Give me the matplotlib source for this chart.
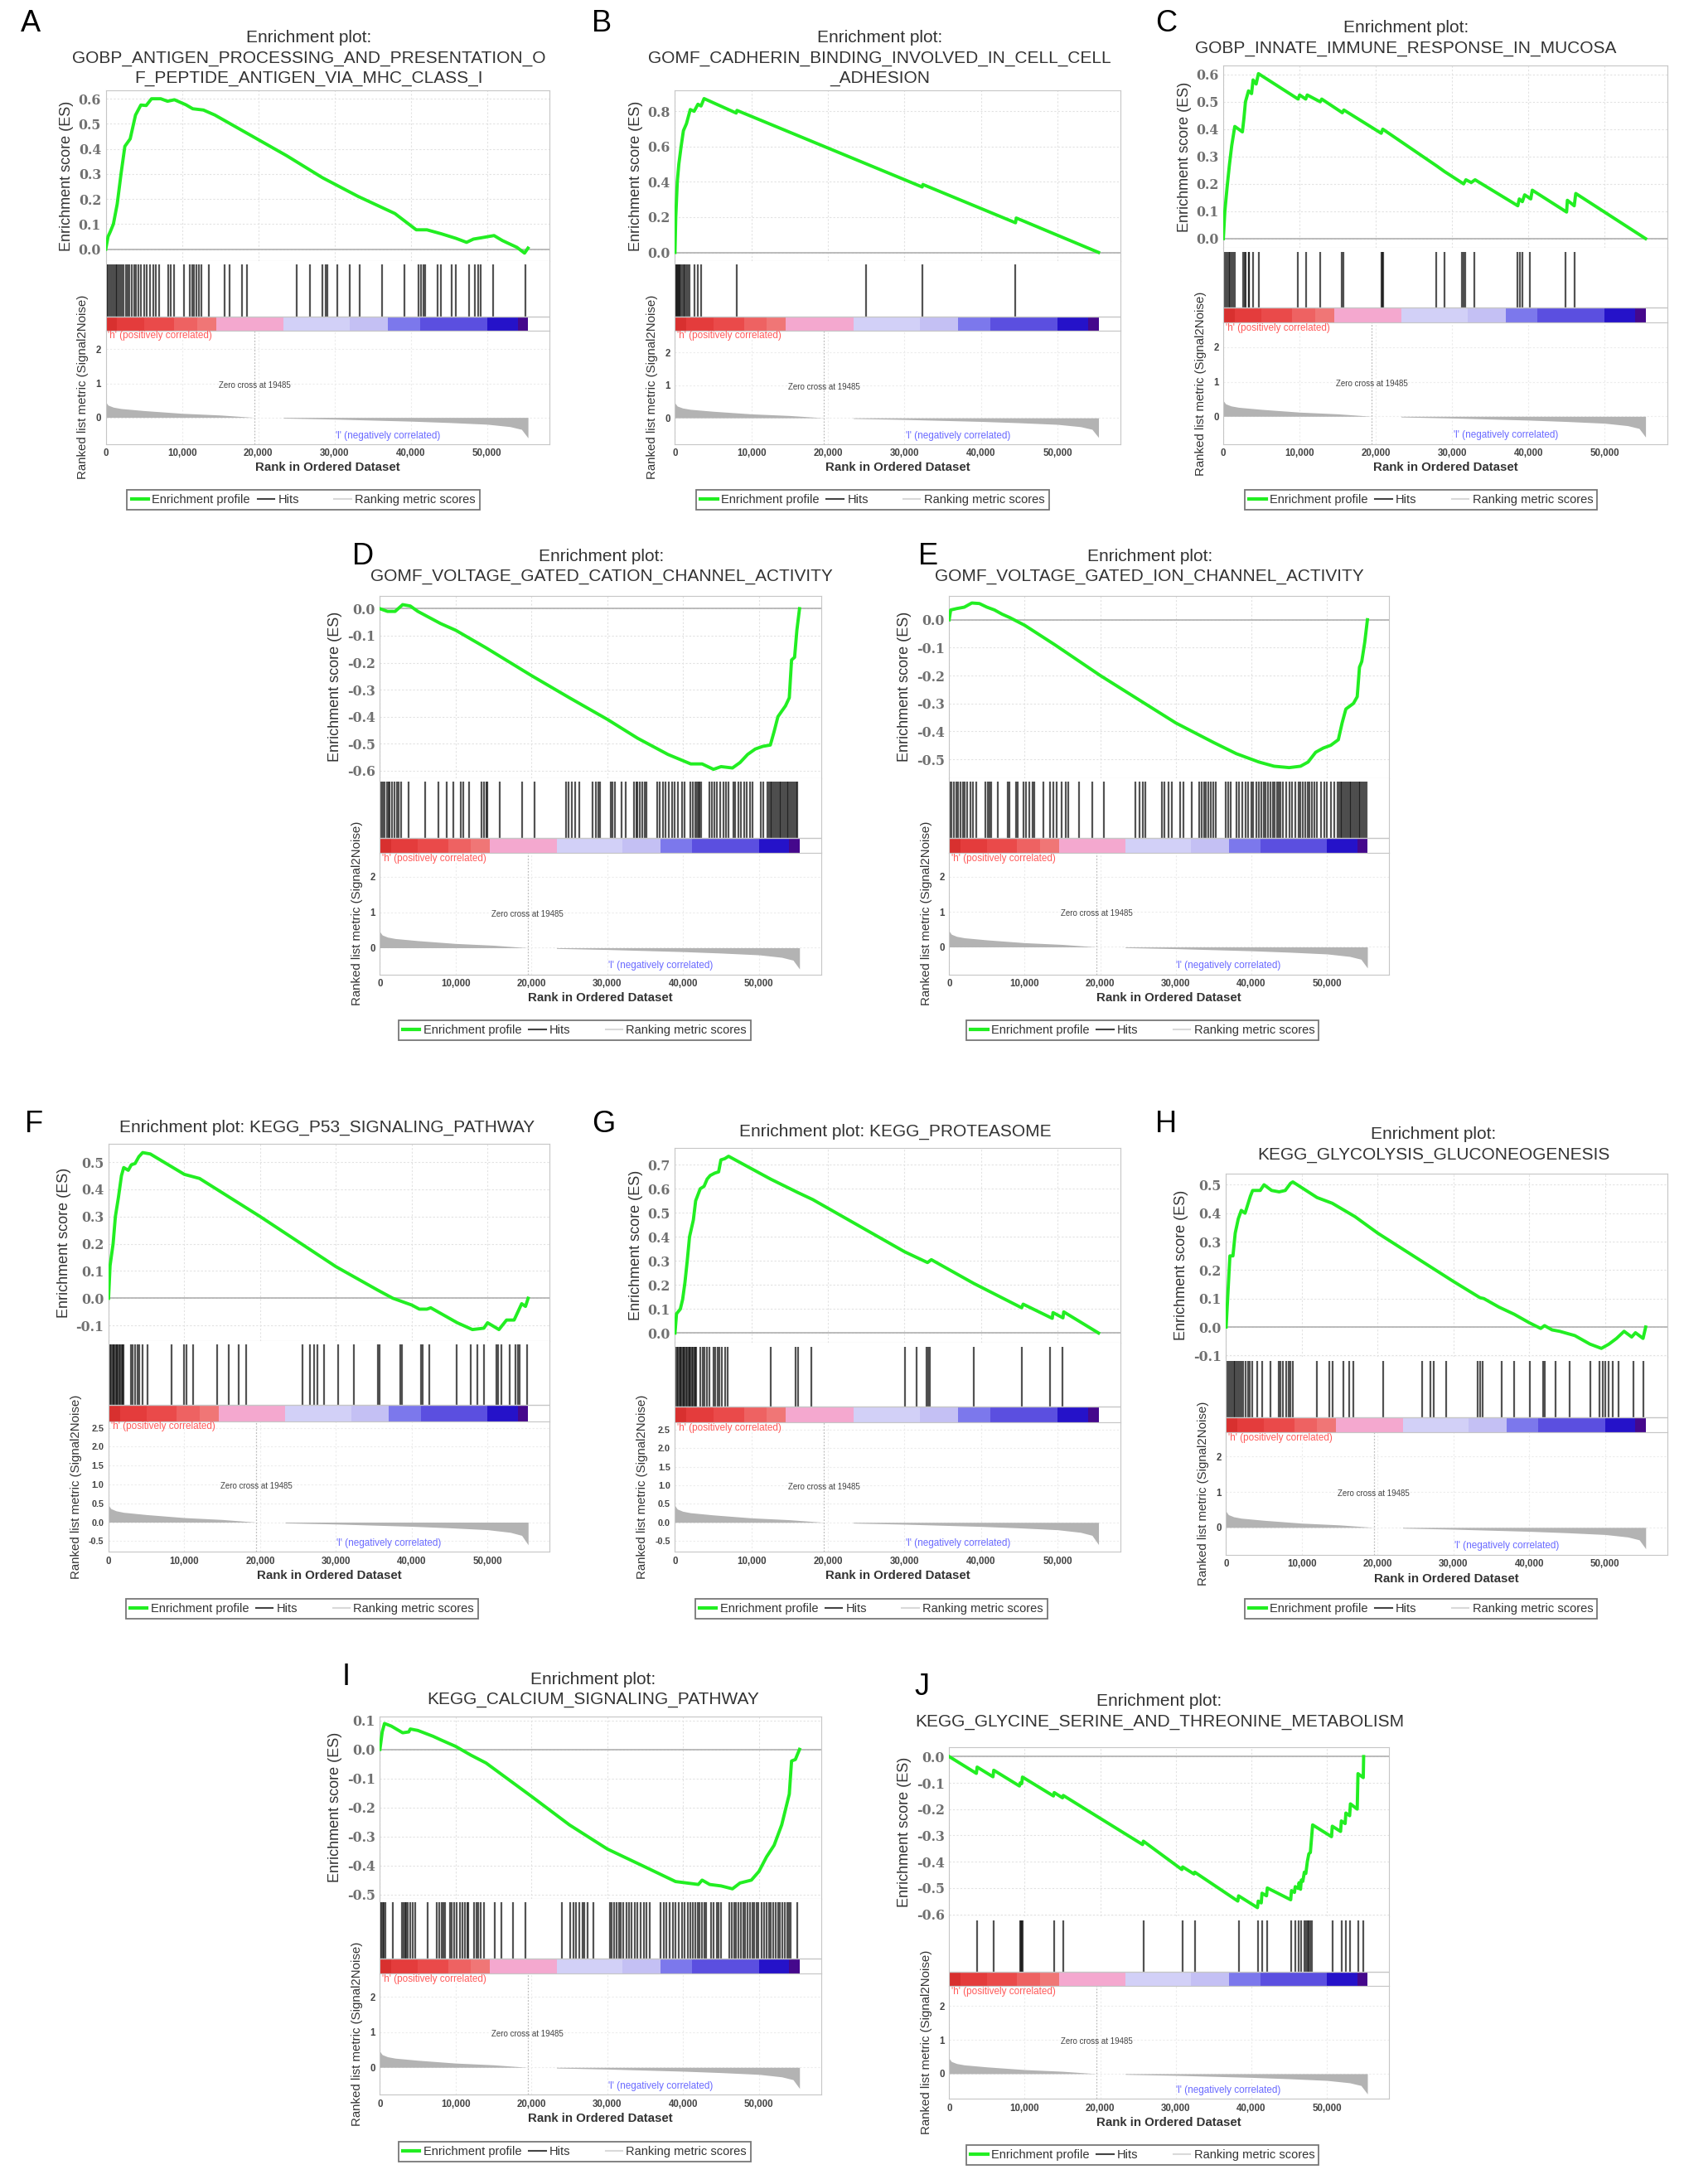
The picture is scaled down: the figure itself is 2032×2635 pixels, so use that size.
import numpy as np
import matplotlib
matplotlib.use("Agg")
import matplotlib.pyplot as plt
from matplotlib.lines import Line2D

plt.rcParams['font.family'] = ['Liberation Sans', 'DejaVu Sans']

# ======================= DATA =======================
N_GENES_K = 55.35          # length of ranked list (thousands)
X_MAX_K = 58.2
X_TICKS_K = [0, 10, 20, 30, 40, 50]
ZERO_CROSS = 19485

# ranked list metric (shared by all panels)
METRIC_X_K = [0, 0.3, 1, 2, 5, 10, 15, 19.485, 23.29, 23.3, 30, 40, 45, 50, 53, 54.5, 55.35]
METRIC_Y = [0.45, 0.36, 0.3, 0.26, 0.2, 0.12, 0.07, 0.0, 0.0, -0.02, -0.05, -0.11, -0.15, -0.2, -0.27, -0.35, -0.6]

# colour band (phenotype correlation)
BAND_EDGES_K = [0, 1.5, 5.0, 9.0, 12.0, 14.5, 23.3, 32.0, 37.0, 41.2, 50.0, 54.0, 55.35]
BAND_COLORS = ['#d8302f', '#e43c3c', '#ea4a4a', '#ee6262', '#f07676', '#f4a8cf',
               '#d2d0f7', '#c4c0f4', '#7c78ec', '#5b4fe0', '#2512c9', '#45088c']

TITLE_A = ["Enrichment plot:", "GOBP_ANTIGEN_PROCESSING_AND_PRESENTATION_O", "F_PEPTIDE_ANTIGEN_VIA_MHC_CLASS_I"]
TITLE_B = ["Enrichment plot:", "GOMF_CADHERIN_BINDING_INVOLVED_IN_CELL_CELL", "_ADHESION"]
TITLE_C = ["Enrichment plot:", "GOBP_INNATE_IMMUNE_RESPONSE_IN_MUCOSA"]
TITLE_D = ["Enrichment plot:", "GOMF_VOLTAGE_GATED_CATION_CHANNEL_ACTIVITY"]
TITLE_E = ["Enrichment plot:", "GOMF_VOLTAGE_GATED_ION_CHANNEL_ACTIVITY"]
TITLE_F = ["Enrichment plot: KEGG_P53_SIGNALING_PATHWAY"]
TITLE_G = ["Enrichment plot: KEGG_PROTEASOME"]
TITLE_H = ["Enrichment plot:", "KEGG_GLYCOLYSIS_GLUCONEOGENESIS"]
TITLE_I = ["Enrichment plot:", "KEGG_CALCIUM_SIGNALING_PATHWAY"]
TITLE_J = ["Enrichment plot:", "KEGG_GLYCINE_SERINE_AND_THREONINE_METABOLISM"]

# ---- A ----
ES_A_X_K = [0, 0.3, 0.6, 1.0, 1.5, 2.0, 2.5, 3.2, 3.9, 4.6, 5.3, 6.0, 7.2, 8.1, 9.0, 10.5, 11.4, 12.8, 14.3,
            19.0, 23.7, 28.4, 33.1, 37.9, 40.7, 42.1, 44.0, 45.9, 47.3, 48.2, 49.2, 50.9, 52.0, 53.9, 54.9, 55.35]
ES_A_Y = [0, 0.05, 0.07, 0.1, 0.18, 0.3, 0.41, 0.44, 0.535, 0.575, 0.573, 0.6, 0.6, 0.59, 0.596, 0.576, 0.56, 0.555,
          0.535, 0.454, 0.373, 0.285, 0.21, 0.142, 0.077, 0.077, 0.061, 0.043, 0.027, 0.04, 0.045, 0.054, 0.034,
          0.007, -0.016, 0.004]
HITS_A_K = [0.1, 0.3, 0.5, 0.7, 0.9, 1.1, 1.3, 1.5, 1.7, 1.9, 2.1, 2.3, 2.6, 2.9, 3.1, 3.4, 3.7, 4.0, 4.3, 4.6,
            5.0, 5.4, 5.8, 6.2, 6.6, 7.0, 8.2, 8.5, 8.9, 10.2, 11.0, 11.3, 11.6, 11.9, 12.2, 12.5, 13.5, 15.6,
            16.2, 17.9, 18.5, 25.0, 26.8, 28.4, 28.8, 29.1, 30.3, 32.0, 33.3, 36.2, 39.2, 41.0, 41.3, 41.6,
            41.9, 43.5, 43.9, 45.3, 45.9, 47.6, 48.4, 48.8, 49.2, 50.8, 55.0]

# ---- B ----
ES_B_X_K = [0, 0.1, 0.3, 0.5, 0.8, 1.1, 1.5, 2.0, 2.5, 3.0, 3.4, 3.8, 8.0, 8.1, 32.3, 32.4, 44.5, 44.6, 55.35]
ES_B_Y = [0, 0.2, 0.4, 0.5, 0.6, 0.69, 0.73, 0.81, 0.8, 0.84, 0.83, 0.872, 0.79, 0.805, 0.371, 0.385, 0.168,
          0.195, 0.0]
HITS_B_K = [0.05, 0.15, 0.25, 0.35, 0.5, 0.6, 0.75, 0.9, 1.1, 1.3, 1.5, 1.7, 1.9, 2.5, 3.0, 3.4, 8.1, 25.0,
            32.3, 44.5]

# ---- C ----
ES_C_X_K = [0, 0.2, 0.5, 0.8, 1.1, 1.5, 2.5, 2.7, 2.9, 3.3, 3.7, 3.9, 4.3, 4.6, 9.8, 10.0, 10.8, 11.0, 12.7,
            12.9, 15.6, 15.8, 20.7, 20.9, 28.0, 29.0, 31.5, 31.8, 32.5, 33.0, 38.6, 38.8, 39.2, 39.5, 40.3,
            40.5, 45.0, 45.1, 46.0, 46.2, 55.35]
ES_C_Y = [0, 0.1, 0.19, 0.27, 0.34, 0.41, 0.39, 0.44, 0.5, 0.54, 0.53, 0.58, 0.565, 0.603, 0.51, 0.525, 0.51,
          0.525, 0.5, 0.51, 0.46, 0.47, 0.385, 0.4, 0.265, 0.245, 0.2, 0.215, 0.205, 0.215, 0.12, 0.145, 0.135,
          0.16, 0.145, 0.177, 0.097, 0.14, 0.12, 0.165, 0.0]
HITS_C_K = [0.1, 0.3, 0.5, 0.7, 0.9, 1.1, 1.3, 1.5, 2.6, 2.8, 2.95, 3.3, 3.4, 3.9, 4.7, 9.8, 10.9, 12.7, 15.5,
            15.7, 20.7, 20.85, 21.0, 27.9, 29.0, 31.3, 31.5, 31.7, 32.9, 38.5, 38.9, 39.2, 40.2, 44.8, 46.1]

# ---- D ----
ES_D_X_K = [0, 1, 2, 3, 4, 5, 7, 8, 10, 14, 20, 25, 30, 34, 38, 41, 42.5, 44, 45, 46.5, 47.5, 48.5, 49.5,
            50.5, 51.5, 52, 52.5, 53.5, 54, 54.3, 54.7, 55, 55.35]
ES_D_Y = [0, -0.01, -0.01, 0.015, 0.01, -0.01, -0.04, -0.055, -0.08, -0.145, -0.248, -0.33, -0.41, -0.48,
          -0.54, -0.575, -0.575, -0.595, -0.585, -0.59, -0.57, -0.54, -0.52, -0.51, -0.505, -0.455, -0.4,
          -0.36, -0.33, -0.19, -0.18, -0.08, 0.0]
HITS_D_K = [0.2, 0.4, 0.6, 0.9, 1.1, 1.3, 1.6, 1.9, 2.2, 2.5, 2.8, 3.8, 6.0, 7.7, 8.8, 9.7, 10.7, 11.0, 11.8,
            13.4, 13.7, 14.0, 14.2, 15.8, 18.8, 20.4, 24.6, 24.9, 25.3, 25.8, 26.3, 28.1, 28.5, 28.8, 29.0,
            30.4, 30.7, 31.0, 31.9, 32.4, 33.5, 33.8, 34.0, 34.3, 34.6, 34.9, 35.1, 36.6, 36.9, 37.3, 37.7,
            38.1, 38.5, 38.9, 39.3, 39.8, 40.2, 41.0, 41.3, 41.6, 41.8, 42.0, 42.2, 42.4, 43.5, 43.8, 44.1,
            44.4, 44.9, 45.3, 45.7, 46.0, 46.6, 46.9, 47.3, 47.6, 48.0, 48.4, 48.8, 49.1, 50.2, 50.6, 51.1,
            51.3, 51.5, 51.7, 51.9, 52.1, 52.3, 52.5, 52.7, 52.9, 53.1, 53.3, 53.5, 53.7, 53.9, 54.1, 54.3,
            54.5, 54.7, 54.9, 55.1]

# ---- E ----
ES_E_X_K = [0, 0.2, 1, 2, 3, 4, 5, 6, 7, 8, 10, 14, 20, 25, 30, 35, 38, 41, 43, 45, 46.5, 47.5, 48.5, 49.5,
            50.5, 51, 51.5, 52, 52.5, 53.5, 54, 54.3, 54.6, 55, 55.35]
ES_E_Y = [0, 0.035, 0.04, 0.045, 0.06, 0.058, 0.045, 0.035, 0.02, 0.008, -0.02, -0.09, -0.2, -0.285, -0.37,
          -0.44, -0.48, -0.51, -0.525, -0.53, -0.525, -0.51, -0.475, -0.46, -0.45, -0.44, -0.43, -0.37,
          -0.32, -0.3, -0.276, -0.17, -0.15, -0.08, 0.0]
HITS_E_K = [0.1, 0.3, 0.6, 0.9, 1.2, 1.5, 1.8, 2.1, 2.4, 2.8, 3.2, 3.6, 4.8, 5.1, 5.3, 5.6, 6.4, 7.8, 8.0, 8.9,
            9.1, 9.8, 10.2, 10.6, 11.0, 11.3, 12.5, 13.4, 13.8, 14.2, 14.9, 15.4, 15.8, 17.2, 18.9, 20.5,
            24.6, 25.2, 25.6, 26.0, 28.1, 28.5, 29.0, 29.5, 30.6, 31.0, 32.1, 33.1, 33.4, 33.7, 34.0, 34.3,
            34.6, 35.0, 35.3, 36.6, 36.9, 37.3, 38.0, 38.4, 38.8, 39.2, 39.6, 40.0, 40.2, 40.7, 41.0, 41.3,
            41.6, 41.9, 42.2, 42.5, 42.8, 43.1, 43.4, 43.6, 43.8, 44.2, 44.6, 45.0, 45.4, 45.8, 46.2, 46.5,
            46.8, 47.1, 47.4, 47.7, 48.0, 48.3, 48.7, 49.2, 49.6, 50.0, 50.5, 51.0, 51.4, 51.6, 51.8, 52.0,
            52.2, 52.4, 52.6, 52.8, 53.0, 53.2, 53.4, 53.6, 53.8, 54.0, 54.2, 54.4, 54.6, 54.8, 55.0, 55.2]

# ---- F ----
ES_F_X_K = [0, 0.2, 0.6, 0.9, 1.3, 1.7, 2.0, 2.6, 3.0, 3.5, 4.0, 4.5, 5.5, 8.5, 10, 12, 20, 30, 35.5, 37.5,
            38.5, 40, 41, 42, 42.5, 46, 48, 49.5, 50, 51.5, 52.5, 53.5, 54, 54.5, 55, 55.35]
ES_F_Y = [0, 0.12, 0.2, 0.3, 0.37, 0.45, 0.48, 0.47, 0.49, 0.495, 0.52, 0.535, 0.53, 0.48, 0.455, 0.44, 0.3,
          0.116, 0.03, 0.0, -0.01, -0.025, -0.04, -0.04, -0.035, -0.09, -0.115, -0.11, -0.09, -0.115, -0.08,
          -0.08, -0.05, -0.02, -0.03, 0.0]
HITS_F_K = [0.05, 0.2, 0.35, 0.5, 0.65, 0.8, 0.95, 1.1, 1.25, 1.4, 1.55, 1.7, 1.85, 2.0, 2.9, 3.2, 3.5, 3.8,
            4.1, 4.5, 5.1, 8.3, 9.9, 10.3, 11.2, 14.3, 15.9, 17.2, 18.1, 25.6, 26.6, 27.1, 27.5, 28.4, 30.3,
            32.4, 35.5, 35.7, 38.5, 38.7, 41.2, 41.4, 42.3, 45.9, 47.8, 48.7, 49.5, 51.2, 51.4, 51.8, 52.9,
            53.7, 54.0, 54.2, 55.2]

# ---- G ----
ES_G_X_K = [0, 0.2, 0.7, 1.0, 1.3, 1.6, 1.9, 2.4, 2.7, 3.3, 3.8, 4.2, 4.6, 5.2, 5.7, 6.0, 6.5, 7.0, 12.5, 16,
            18, 30, 33, 33.5, 39, 45.3, 45.5, 49.3, 49.4, 50.7, 50.8, 55.35]
ES_G_Y = [0, 0.08, 0.1, 0.14, 0.21, 0.3, 0.4, 0.47, 0.55, 0.6, 0.61, 0.64, 0.655, 0.665, 0.67, 0.72, 0.725,
          0.735, 0.64, 0.585, 0.555, 0.338, 0.293, 0.305, 0.207, 0.105, 0.12, 0.061, 0.085, 0.063, 0.088, 0.0]
HITS_G_K = [0.1, 0.25, 0.4, 0.55, 0.7, 0.85, 1.0, 1.15, 1.3, 1.45, 1.6, 1.75, 1.9, 2.05, 2.2, 2.35, 2.5, 2.65,
            2.8, 3.3, 3.6, 3.8, 4.2, 4.5, 5.0, 5.3, 5.6, 5.8, 6.1, 6.6, 6.9, 12.5, 15.8, 16.1, 17.8, 30.1,
            31.6, 32.9, 33.1, 33.3, 39.0, 45.3, 49.0, 50.6]

# ---- H ----
ES_H_X_K = [0, 0.2, 0.5, 0.9, 1.2, 1.6, 2.0, 2.5, 3.2, 3.5, 4.5, 5.0, 6.0, 7.0, 7.8, 8.5, 8.8, 12, 14, 17, 20,
            30, 33.5, 34, 36, 38, 40, 41.5, 42, 43, 44, 46, 48, 48.5, 49.5, 50.5, 51.5, 52.5, 53.5, 54, 55,
            55.35]
ES_H_Y = [0, 0.1, 0.25, 0.25, 0.33, 0.38, 0.41, 0.4, 0.46, 0.48, 0.48, 0.5, 0.48, 0.475, 0.48, 0.505, 0.51,
          0.455, 0.435, 0.388, 0.33, 0.16, 0.103, 0.1, 0.07, 0.045, 0.015, -0.005, 0.005, -0.01, -0.015,
          -0.03, -0.06, -0.065, -0.075, -0.06, -0.04, -0.015, -0.035, -0.02, -0.04, 0.0]
HITS_H_K = [0.2, 0.4, 0.6, 0.8, 1.0, 1.2, 1.4, 1.6, 1.8, 2.0, 2.2, 2.6, 2.9, 3.1, 3.4, 4.1, 4.8, 5.8, 6.9, 7.2,
            7.5, 7.9, 8.2, 8.5, 8.8, 12.0, 13.6, 14.0, 15.5, 16.2, 16.8, 20.7, 25.9, 26.9, 27.4, 29.0, 33.2,
            33.5, 33.8, 36.3, 38.0, 40.1, 41.8, 42.0, 43.5, 45.3, 48.0, 49.3, 49.7, 50.0, 50.5, 51.0, 51.8,
            53.7, 55.1]

# ---- I ----
ES_I_X_K = [0, 0.3, 0.6, 1.5, 3, 3.8, 4, 5, 7, 8, 10, 12, 14, 20, 25, 30, 35, 39, 42, 42.5, 43.5, 45, 46.5,
            47.5, 49, 50, 51, 52, 53, 54, 54.3, 54.8, 55.35]
ES_I_Y = [0, 0.06, 0.089, 0.08, 0.057, 0.06, 0.07, 0.065, 0.045, 0.033, 0.01, -0.02, -0.047, -0.162, -0.26,
          -0.343, -0.405, -0.455, -0.465, -0.45, -0.465, -0.47, -0.48, -0.46, -0.45, -0.42, -0.37, -0.33,
          -0.26, -0.154, -0.04, -0.035, 0.0]
HITS_I_K = [0.05, 0.2, 0.35, 0.5, 0.7, 1.7, 2.9, 3.1, 3.3, 3.5, 3.7, 4.0, 4.3, 4.7, 6.3, 7.5, 7.8, 8.1, 8.4,
            8.6, 9.2, 9.5, 9.8, 10.1, 10.6, 10.9, 11.2, 11.5, 11.7, 12.4, 12.7, 13.0, 13.3, 13.7, 15.1, 16.0,
            17.6, 19.2, 24.0, 25.1, 25.5, 25.9, 26.3, 26.7, 27.0, 27.4, 28.2, 30.3, 30.6, 30.9, 31.2, 31.5,
            31.8, 32.1, 32.5, 32.9, 33.2, 33.6, 34.0, 34.4, 34.8, 35.2, 35.6, 37.0, 37.4, 37.8, 38.2, 38.6,
            39.0, 39.4, 39.8, 40.2, 40.6, 41.0, 41.3, 41.6, 41.9, 42.2, 42.5, 42.8, 43.0, 43.7, 44.0, 44.4,
            44.7, 45.0, 46.1, 46.4, 46.7, 47.0, 47.3, 47.6, 47.9, 48.2, 48.5, 48.8, 49.1, 49.4, 49.7, 49.9,
            50.4, 50.7, 51.0, 51.3, 51.6, 51.9, 52.2, 52.5, 52.8, 53.1, 53.4, 53.7, 54.0, 54.2, 55.0]

# ---- J ----
ES_J_X_K = [0, 3.6, 3.7, 5.8, 5.9, 9.3, 9.4, 9.6, 9.7, 13.8, 13.9, 15.0, 15.1, 25.6, 25.7, 30.8, 30.9, 32.4,
            32.5, 38.2, 38.3, 40.8, 40.9, 41.3, 41.4, 42.0, 42.1, 45.2, 45.3, 45.7, 45.8, 46.2, 46.3, 46.5,
            46.6, 46.8, 47.0, 47.2, 47.4, 47.6, 47.8, 48.1, 50.6, 50.7, 51.8, 51.9, 52.4, 52.5, 53.0, 53.1,
            54.0, 54.1, 54.8, 54.85]
ES_J_Y = [0, -0.064, -0.04, -0.077, -0.052, -0.112, -0.1, -0.103, -0.078, -0.15, -0.137, -0.157, -0.148,
          -0.335, -0.322, -0.43, -0.42, -0.447, -0.44, -0.55, -0.53, -0.575, -0.55, -0.557, -0.52, -0.53,
          -0.5, -0.545, -0.51, -0.517, -0.495, -0.502, -0.48, -0.505, -0.47, -0.475, -0.44, -0.445, -0.4,
          -0.37, -0.365, -0.26, -0.305, -0.265, -0.285, -0.245, -0.255, -0.215, -0.225, -0.18, -0.2, -0.065,
          -0.08, 0.0]
HITS_J_K = [3.7, 5.9, 9.35, 9.5, 9.6, 9.75, 13.9, 15.1, 25.7, 30.9, 32.5, 38.3, 40.9, 41.4, 42.1, 45.3, 45.8,
            46.3, 46.6, 47.0, 47.2, 47.4, 47.6, 47.8, 48.0, 50.7, 51.9, 52.5, 53.1, 54.1, 54.85]

ES_TICKS_A = [0.0, 0.1, 0.2, 0.3, 0.4, 0.5, 0.6]
ES_TICKS_B = [0.0, 0.2, 0.4, 0.6, 0.8]
ES_TICKS_C = [0.0, 0.1, 0.2, 0.3, 0.4, 0.5, 0.6]
ES_TICKS_D = [-0.6, -0.5, -0.4, -0.3, -0.2, -0.1, 0.0]
ES_TICKS_E = [-0.5, -0.4, -0.3, -0.2, -0.1, 0.0]
ES_TICKS_F = [-0.1, 0.0, 0.1, 0.2, 0.3, 0.4, 0.5]
ES_TICKS_G = [0.0, 0.1, 0.2, 0.3, 0.4, 0.5, 0.6, 0.7]
ES_TICKS_H = [-0.1, 0.0, 0.1, 0.2, 0.3, 0.4, 0.5]
ES_TICKS_I = [-0.5, -0.4, -0.3, -0.2, -0.1, 0.0, 0.1]
ES_TICKS_J = [-0.6, -0.5, -0.4, -0.3, -0.2, -0.1, 0.0]
RANK_TICKS_INT = [0, 1, 2]
RANK_TICKS_HALF = [-0.5, 0.0, 0.5, 1.0, 1.5, 2.0, 2.5]

PANELS = [
    dict(letter='A', title=TITLE_A, ex=ES_A_X_K, ey=ES_A_Y, hits=HITS_A_K, et=ES_TICKS_A, rt=RANK_TICKS_INT),
    dict(letter='B', title=TITLE_B, ex=ES_B_X_K, ey=ES_B_Y, hits=HITS_B_K, et=ES_TICKS_B, rt=RANK_TICKS_INT),
    dict(letter='C', title=TITLE_C, ex=ES_C_X_K, ey=ES_C_Y, hits=HITS_C_K, et=ES_TICKS_C, rt=RANK_TICKS_INT),
    dict(letter='D', title=TITLE_D, ex=ES_D_X_K, ey=ES_D_Y, hits=HITS_D_K, et=ES_TICKS_D, rt=RANK_TICKS_INT),
    dict(letter='E', title=TITLE_E, ex=ES_E_X_K, ey=ES_E_Y, hits=HITS_E_K, et=ES_TICKS_E, rt=RANK_TICKS_INT),
    dict(letter='F', title=TITLE_F, ex=ES_F_X_K, ey=ES_F_Y, hits=HITS_F_K, et=ES_TICKS_F, rt=RANK_TICKS_HALF),
    dict(letter='G', title=TITLE_G, ex=ES_G_X_K, ey=ES_G_Y, hits=HITS_G_K, et=ES_TICKS_G, rt=RANK_TICKS_HALF),
    dict(letter='H', title=TITLE_H, ex=ES_H_X_K, ey=ES_H_Y, hits=HITS_H_K, et=ES_TICKS_H, rt=RANK_TICKS_INT),
    dict(letter='I', title=TITLE_I, ex=ES_I_X_K, ey=ES_I_Y, hits=HITS_I_K, et=ES_TICKS_I, rt=RANK_TICKS_INT),
    dict(letter='J', title=TITLE_J, ex=ES_J_X_K, ey=ES_J_Y, hits=HITS_J_K, et=ES_TICKS_J, rt=RANK_TICKS_INT),
]

# ======================= LAYOUT (reference coords, 1210-wide grid) =======================
LAYOUT = {
    'A': dict(box=(76, 395, 65, 319), tx=222, ty=[27, 42, 56], lt=(15, 17), ly=359, lx=218,
              esl=(-0.047, 0.633), rkl=(-0.78, 2.55)),
    'B': dict(box=(485, 805, 65, 319), tx=632, ty=[27, 42, 56], lt=(425, 17), ly=359, lx=627,
              esl=(-0.048, 0.918), rkl=(-0.8, 2.67)),
    'C': dict(box=(879, 1198, 47, 319), tx=1010, ty=[20, 35], lt=(830, 17), ly=359, lx=1021,
              esl=(-0.034, 0.633), rkl=(-0.8, 2.71)),
    'D': dict(box=(273, 590, 428, 700), tx=432, ty=[400, 414], lt=(253, 400), ly=740, lx=413,
              esl=(-0.628, 0.048), rkl=(-0.75, 2.68)),
    'E': dict(box=(682, 998, 428, 700), tx=826, ty=[400, 414], lt=(660, 400), ly=740, lx=821,
              esl=(-0.568, 0.086), rkl=(-0.78, 2.68)),
    'F': dict(box=(78, 395, 822, 1115), tx=235, ty=[810], lt=(18, 808), ly=1156, lx=217,
              esl=(-0.156, 0.566), rkl=(-0.79, 2.68)),
    'G': dict(box=(485, 805, 825, 1115), tx=643, ty=[813], lt=(425, 808), ly=1156, lx=626,
              esl=(-0.041, 0.768), rkl=(-0.8, 2.7)),
    'H': dict(box=(881, 1198, 843, 1117), tx=1030, ty=[815, 830], lt=(830, 808), ly=1156, lx=1021,
              esl=(-0.106, 0.54), rkl=(-0.77, 2.68)),
    'I': dict(box=(273, 590, 1233, 1505), tx=426, ty=[1207, 1221], lt=(246, 1205), ly=1546, lx=413,
              esl=(-0.514, 0.114), rkl=(-0.78, 2.67)),
    'J': dict(box=(682, 998, 1255, 1508), tx=833, ty=[1222, 1237], lt=(657, 1212), ly=1548, lx=821,
              esl=(-0.609, 0.037), rkl=(-0.75, 2.6)),
}

W, H = 2032, 2635
S = 2032 / 1210.0
FR_ES, FR_HIT, FR_BAND = 0.482, 0.157, 0.04

fig = plt.figure(figsize=(W / 100, H / 100), dpi=100)
fig.patch.set_facecolor('white')


def fx(x):
    return x * S / W


def fy(y):
    return 1 - y * S / H


def rect(l, r, t, b):
    return [fx(l), fy(b), fx(r) - fx(l), fy(t) - fy(b)]


SPINE = '#c6c6c6'
GRID = '#e2e2e2'
xmax = X_MAX_K * 1000
mx = np.array(METRIC_X_K) * 1000
my = np.array(METRIC_Y)

for p in PANELS:
    lay = LAYOUT[p['letter']]
    L, R, T, B = lay['box']
    tot = B - T
    es_b = T + FR_ES * tot
    hit_b = es_b + FR_HIT * tot
    band_b = hit_b + FR_BAND * tot

    ax_es = fig.add_axes(rect(L, R, T, es_b))
    ax_hit = fig.add_axes(rect(L, R, es_b, band_b))
    ax_rk = fig.add_axes(rect(L, R, band_b, B))

    # ---------- ES panel ----------
    ax_es.set_xlim(0, xmax)
    ax_es.set_ylim(*lay['esl'])
    ax_es.set_xticks(np.array(X_TICKS_K) * 1000)
    ax_es.set_yticks(p['et'])
    ax_es.set_yticklabels([("%.1f" % v).replace('-0.0', '0.0') for v in p['et']],
                          fontsize=11.3, color='#707070', family='DejaVu Serif', fontweight='bold')
    ax_es.tick_params(axis='x', labelbottom=False, length=0)
    ax_es.tick_params(axis='y', length=0, pad=4)
    ax_es.grid(True, color=GRID, lw=0.8, ls=(0, (2, 2)))
    ax_es.set_axisbelow(True)
    ax_es.axhline(0, color='#b0b0b0', lw=1.2, zorder=2)
    ax_es.plot(np.array(p['ex']) * 1000, p['ey'], color='#22ee22', lw=2.8, zorder=3)
    ax_es.set_ylabel('Enrichment score (ES)', fontsize=13, color='#333333', labelpad=4)
    for s in ax_es.spines.values():
        s.set_color(SPINE)

    # ---------- hits + colour band ----------
    band_frac = FR_BAND / (FR_HIT + FR_BAND)
    ax_hit.set_xlim(0, xmax)
    ax_hit.set_ylim(0, 1)
    ax_hit.set_xticks([])
    ax_hit.set_yticks([])
    ax_hit.vlines(np.array(p['hits']) * 1000, band_frac, 0.95, color='#111111', lw=1.6, alpha=0.72)
    edges = np.array(BAND_EDGES_K) * 1000
    ax_hit.broken_barh([(edges[i], edges[i + 1] - edges[i]) for i in range(len(BAND_COLORS))],
                       (0, band_frac), facecolors=BAND_COLORS, edgecolor='none')
    ax_hit.axhline(band_frac, color=SPINE, lw=1)
    ax_hit.spines['top'].set_visible(False)
    for k in ('left', 'right', 'bottom'):
        ax_hit.spines[k].set_color(SPINE)

    # ---------- ranked list metric ----------
    ax_rk.set_xlim(0, xmax)
    ax_rk.set_ylim(*lay['rkl'])
    ax_rk.fill_between(mx, 0, my, color='#b3b3b3', lw=0)
    ax_rk.axvline(ZERO_CROSS, color='#bdbdbd', lw=0.9, ls=(0, (1.5, 1.5)))
    ax_rk.set_xticks(np.array(X_TICKS_K) * 1000)
    ax_rk.set_xticklabels(['0' if v == 0 else '{:,}'.format(v * 1000) for v in X_TICKS_K],
                          fontsize=8.3, fontweight='bold', color='#444444')
    ax_rk.set_yticks(p['rt'])
    if p['rt'] is RANK_TICKS_HALF:
        ax_rk.set_yticklabels(["%.1f" % v for v in p['rt']], fontsize=7.8, fontweight='bold', color='#444444')
    else:
        ax_rk.set_yticklabels([str(v) for v in p['rt']], fontsize=8.3, fontweight='bold', color='#444444')
    ax_rk.tick_params(length=0, pad=4)
    ax_rk.grid(True, color='#ececec', lw=0.8, ls=(0, (2, 2)))
    ax_rk.set_axisbelow(True)
    ax_rk.set_xlabel('Rank in Ordered Dataset', fontsize=10.8, fontweight='bold', color='#333333', labelpad=3)
    ax_rk.set_ylabel('Ranked list metric (Signal2Noise)', fontsize=10.8, color='#333333', labelpad=6)
    for s in ax_rk.spines.values():
        s.set_color(SPINE)
    ax_rk.text(ZERO_CROSS, 0.95, 'Zero cross at 19485', fontsize=7, color='#444444', ha='center', va='center')
    ax_rk.text(300, 0.995, "'h' (positively correlated)", transform=ax_rk.get_xaxis_transform(),
               fontsize=8.5, color='#ff5a5a', ha='left', va='top')
    ax_rk.text(37000, 0.03, "'l' (negatively correlated)", transform=ax_rk.get_xaxis_transform(),
               fontsize=8.5, color='#6a6aff', ha='center', va='bottom')

    # ---------- titles, letter, legend ----------
    for line, yy in zip(p['title'], lay['ty']):
        fig.text(fx(lay['tx']), fy(yy), line, ha='center', va='center', fontsize=15, color='#333333')
    fig.text(fx(lay['lt'][0]), fy(lay['lt'][1]), p['letter'], ha='left', va='center', fontsize=26,
             color='black')
    handles = [Line2D([], [], color='#22ee22', lw=3),
               Line2D([], [], color='#444444', lw=1.5),
               Line2D([], [], color='none'),
               Line2D([], [], color='#d9d9d9', lw=1.5)]
    labels = ['Enrichment profile', 'Hits', '', 'Ranking metric scores']
    leg = fig.legend(handles, labels, loc='center', bbox_to_anchor=(fx(lay['lx']), fy(lay['ly'])),
                     ncol=4, fontsize=10.5, frameon=True, fancybox=False, edgecolor='#555555',
                     handlelength=1.4, handletextpad=0.3, columnspacing=0.6, borderpad=0.35)
    leg.get_frame().set_linewidth(1.3)
    for t in leg.get_texts():
        t.set_color('#333333')

fig.savefig('out.png', dpi=100, facecolor='white')
